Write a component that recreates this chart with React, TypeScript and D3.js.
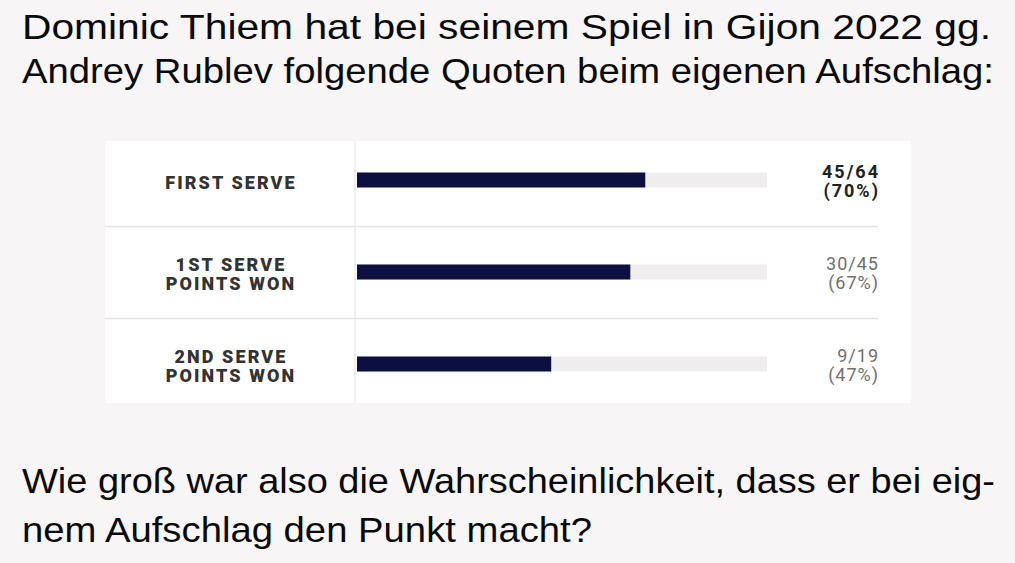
import React, { useEffect, useRef } from "react";
import * as d3 from "d3";

const titleLines = [
	"Dominic Thiem hat bei seinem Spiel in Gijon 2022 gg.",
	"Andrey Rublev folgende Quoten beim eigenen Aufschlag:",
];
const questionLines = [
	"Wie groß war also die Wahrscheinlichkeit, dass er bei eig-",
	"nem Aufschlag den Punkt macht?",
];

const categories = ["FIRST SERVE", "1ST SERVE|POINTS WON", "2ND SERVE|POINTS WON"];
const pointsWon = [45, 30, 9];
const pointsTotal = [64, 45, 19];
const highlighted = [true, false, false];

const App = () => {
	const chartRef = useRef<SVGSVGElement>(null);

	useEffect(() => {
		const width = 1015;
		const height = 563;

		const svg = d3.select(chartRef.current);
		svg.selectAll("*").remove();
		svg.attr("width", width).attr("height", height);

		svg.append("rect")
			.attr("width", width)
			.attr("height", height)
			.attr("fill", "#f7f5f5");

		// title + question, squeezed to the line widths of the reference
		const textFont = "'Liberation Sans', Arial, sans-serif";
		const titleRight = [991, 994];
		const questionRight = [995, 592];

		svg.selectAll("text.title")
			.data(titleLines)
			.enter()
			.append("text")
			.attr("class", "title")
			.attr("x", 22)
			.attr("y", (d, i) => 39 + i * 44)
			.attr("textLength", (d, i) => titleRight[i] - 22)
			.attr("lengthAdjust", "spacingAndGlyphs")
			.style("font-family", textFont)
			.style("font-size", "35px")
			.style("fill", "#0a0a0a")
			.text(d => d);

		svg.selectAll("text.question")
			.data(questionLines)
			.enter()
			.append("text")
			.attr("class", "question")
			.attr("x", 22)
			.attr("y", (d, i) => 493 + i * 49)
			.attr("textLength", (d, i) => questionRight[i] - 22)
			.attr("lengthAdjust", "spacingAndGlyphs")
			.style("font-family", textFont)
			.style("font-size", "35px")
			.style("fill", "#0a0a0a")
			.text(d => d);

		// stats panel
		const panel = { left: 105, top: 141, right: 911, bottom: 403 };
		const labelCol = 355;

		svg.append("rect")
			.attr("x", panel.left)
			.attr("y", panel.top)
			.attr("width", panel.right - panel.left)
			.attr("height", panel.bottom - panel.top)
			.attr("fill", "#ffffff");

		const x = d3.scaleLinear().domain([0, 1]).range([357, 767]);
		const y = d3.scaleBand().domain(categories).range([134, 410]);
		const barH = 15;

		svg.append("line")
			.attr("x1", labelCol)
			.attr("x2", labelCol)
			.attr("y1", panel.top)
			.attr("y2", panel.bottom)
			.attr("stroke", "#ebe8e8")
			.attr("stroke-width", 1.5);

		svg.selectAll("line.sep")
			.data(categories.slice(1))
			.enter()
			.append("line")
			.attr("class", "sep")
			.attr("x1", panel.left)
			.attr("x2", 878)
			.attr("y1", d => y(d)! + 0.5)
			.attr("y2", d => y(d)! + 0.5)
			.attr("stroke", "#e6e3e3")
			.attr("stroke-width", 1.5);

		const mid = (d: string) => y(d)! + y.bandwidth() / 2;

		svg.selectAll("rect.track")
			.data(categories)
			.enter()
			.append("rect")
			.attr("class", "track")
			.attr("x", x(0))
			.attr("y", d => mid(d) - barH / 2)
			.attr("width", x(1) - x(0))
			.attr("height", barH)
			.attr("fill", "#efedee");

		svg.selectAll("rect.bar")
			.data(categories)
			.enter()
			.append("rect")
			.attr("class", "bar")
			.attr("x", x(0))
			.attr("y", d => mid(d) - barH / 2)
			.attr("width", (d, i) => x(pointsWon[i] / pointsTotal[i]) - x(0))
			.attr("height", barH)
			.attr("fill", "#0b1040");

		// category labels
		const labelX = (panel.left + labelCol) / 2 + 1;
		const labels = svg.selectAll("text.label")
			.data(categories)
			.enter()
			.append("text")
			.attr("class", "label")
			.attr("text-anchor", "middle")
			.style("font-family", "Roboto, sans-serif")
			.style("font-weight", "900")
			.style("font-size", "18px")
			.style("letter-spacing", "2.1px")
			.style("fill", "#333333");

		labels.each(function (d) {
			const parts = d.split("|");
			const base = parts.length === 1 ? mid(d) + 8.5 : mid(d) - 1.5;
			parts.forEach((p, j) => {
				d3.select(this)
					.append("tspan")
					.attr("x", labelX)
					.attr("y", base + j * 19)
					.text(p);
			});
		});

		// values
		const values = svg.selectAll("text.value")
			.data(categories)
			.enter()
			.append("text")
			.attr("class", "value")
			.attr("text-anchor", "end")
			.style("font-family", "Roboto, sans-serif")
			.style("font-size", "18px")
			.style("letter-spacing", (d, i) => (highlighted[i] ? "2px" : "1px"))
			.style("font-weight", (d, i) => (highlighted[i] ? "700" : "400"))
			.style("fill", (d, i) => (highlighted[i] ? "#222222" : "#707070"));

		values.each(function (d, i) {
			const pct = Math.round((pointsWon[i] / pointsTotal[i]) * 100);
			const right = highlighted[i] ? 880 : 879;
			[`${pointsWon[i]}/${pointsTotal[i]}`, `(${pct}%)`].forEach((p, j) => {
				d3.select(this)
					.append("tspan")
					.attr("x", right)
					.attr("y", mid(d) - 2.5 + j * 19)
					.text(p);
			});
		});
	}, []);

	return (
		<svg
			ref={chartRef}
			style={{ position: "absolute", left: 0, top: 0, display: "block" }}
		></svg>
	);
};

export default App;
